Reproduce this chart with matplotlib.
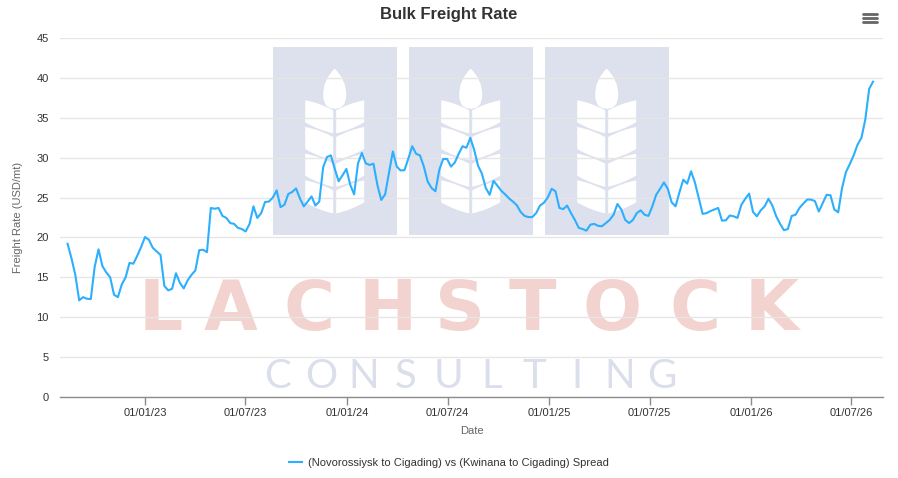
import numpy as np
import pandas as pd
import matplotlib
matplotlib.use("Agg")
import matplotlib.pyplot as plt
import matplotlib.dates as mdates
from matplotlib.path import Path
import matplotlib.patches as patches
from matplotlib.lines import Line2D

plt.rcParams['font.family'] = ['Liberation Sans', 'DejaVu Sans']

# weekly spread values (USD/mt), first week 14 Aug 2022
start_date = '2022-08-14'
spread = [
    19.2, 17.4, 15.3, 12.1, 12.5, 12.3, 12.25, 16.3, 18.5, 16.4,
    15.6, 15.0, 12.8, 12.5, 14.1, 15.0, 16.8, 16.7, 17.7, 18.8,
    20.05, 19.7, 18.7, 18.25, 17.8, 13.9, 13.35, 13.55, 15.5, 14.3,
    13.6, 14.6, 15.3, 15.85, 18.4, 18.45, 18.15, 23.7, 23.6, 23.7,
    22.7, 22.45, 21.8, 21.7, 21.2, 21.05, 20.75, 21.7, 23.9, 22.45,
    23.05, 24.45, 24.5, 25.0, 25.9, 23.8, 24.1, 25.45, 25.7, 26.15,
    24.9, 23.9, 24.5, 25.15, 24.0, 24.5, 28.8, 30.1, 30.3, 28.6,
    27.05, 27.8, 28.6, 26.6, 25.4, 29.3, 30.6, 29.3, 29.1, 29.25,
    26.6, 24.7, 25.4, 28.1, 30.8, 28.9, 28.4, 28.45, 29.9, 31.45,
    30.5, 30.3, 28.9, 27.0, 26.2, 25.8, 28.5, 29.85, 29.85, 28.9,
    29.4, 30.5, 31.45, 31.25, 32.5, 31.0, 29.0, 28.0, 26.2, 25.35,
    27.1, 26.5, 25.85, 25.4, 24.9, 24.5, 24.05, 23.2, 22.7, 22.55,
    22.55, 23.05, 24.0, 24.35, 25.0, 26.1, 25.8, 23.7, 23.55, 24.0,
    23.05, 22.2, 21.2, 21.05, 20.85, 21.6, 21.7, 21.45, 21.4, 21.8,
    22.2, 22.85, 24.2, 23.5, 22.2, 21.8, 22.2, 23.05, 23.4, 22.85,
    22.7, 23.9, 25.35, 26.1, 26.9, 26.1, 24.4, 23.9, 25.65, 27.25,
    26.75, 28.3, 26.9, 24.95, 22.95, 23.05, 23.3, 23.5, 23.7, 22.1,
    22.15, 22.75, 22.65, 22.45, 24.1, 24.85, 25.5, 23.2, 22.65, 23.4,
    23.9, 24.85, 24.0, 22.65, 21.7, 20.9, 21.05, 22.7, 22.85, 23.7,
    24.25, 24.75, 24.75, 24.55, 23.25, 24.3, 25.35, 25.3, 23.5, 23.15,
    26.2, 28.2, 29.2, 30.3, 31.65, 32.5, 34.8, 38.65, 39.55,
]
dates = pd.date_range(start_date, periods=len(spread), freq='7D')

tick_dates = ['2023-01-01', '2023-07-01', '2024-01-01', '2024-07-01',
              '2025-01-01', '2025-07-01', '2026-01-01', '2026-07-01']
series_name = '(Novorossiysk to Cigading) vs (Kwinana to Cigading) Spread'

W, H = 898, 478
fig = plt.figure(figsize=(W / 100, H / 100), dpi=100)

# background layer in pixel coordinates for the watermark
bg = fig.add_axes([0, 0, 1, 1], zorder=0)
bg.set_xlim(0, W)
bg.set_ylim(H, 0)
bg.axis('off')


def wheat(cx):
    bg.add_patch(patches.Rectangle((cx - 62, 47), 124, 188, facecolor='#dde1ee', edgecolor='none'))
    # grain on top
    v = [(cx, 68.7), (cx + 12, 80), (cx + 11.5, 96), (cx + 11, 108.7), (cx, 108.7),
         (cx - 11, 108.7), (cx - 11.5, 96), (cx - 12, 80), (cx, 68.7)]
    c = [Path.MOVETO] + [Path.CURVE3] * 8
    bg.add_patch(patches.PathPatch(Path(v, c), facecolor='white', edgecolor='none'))
    # four pairs of leaves, separated by thin gaps
    b = 2.5
    for i in range(4):
        y0 = 100.3 + 26.7 * i
        for s in (-1, 1):
            tip = (cx + s * 29.5, y0)
            top_stem = (cx + s * 1.5, y0 + 10)
            bot_stem = (cx + s * 1.5, y0 + 33)
            bot_out = (cx + s * 29.5, y0 + 22)
            c_up = (cx + s * 15.5, y0 + 5 - b)
            c_lo = (cx + s * 15.5, y0 + 27.5 + b)
            v = [tip, c_up, top_stem, bot_stem, c_lo, bot_out, tip]
            c = [Path.MOVETO, Path.CURVE3, Path.CURVE3, Path.LINETO,
                 Path.CURVE3, Path.CURVE3, Path.CLOSEPOLY]
            bg.add_patch(patches.PathPatch(Path(v, c), facecolor='white', edgecolor='none'))


for cx in (334.7, 470.7, 606.7):
    wheat(cx)

for ch, x in zip('LACHSTOCK', [161, 231, 309, 388, 460, 532, 612, 695, 772]):
    bg.text(x, 330, ch, color='#f3d3cf', fontsize=50, fontweight='heavy',
            family='DejaVu Sans', ha='center', va='baseline')
for i, ch in enumerate('CONSULTING'):
    bg.text(278 + 42.7 * i, 388, ch, color='#dadfeb', fontsize=29,
            family=['Lato', 'DejaVu Sans'], ha='center', va='baseline')

# main chart
ax = fig.add_axes([60 / W, 1 - 396.7 / H, 823 / W, 358.4 / H], zorder=1)
ax.set_facecolor('none')
ax.plot(dates, spread, color='#2caffe', linewidth=1.5, zorder=3)

ax.set_ylim(0, 45)
ax.set_yticks(np.arange(0, 46, 5))
ax.set_xlim(pd.Timestamp('2022-07-31 08:00'), pd.Timestamp('2026-08-27'))
ax.set_xticks(pd.to_datetime(tick_dates))
ax.xaxis.set_major_formatter(mdates.DateFormatter('%d/%m/%y'))

ax.grid(axis='y', color='#e6e6e6', linewidth=1)
ax.set_axisbelow(True)
for side in ('top', 'right', 'left'):
    ax.spines[side].set_visible(False)
ax.spines['bottom'].set_color('#8c8c8c')
ax.spines['bottom'].set_linewidth(1)
ax.tick_params(axis='x', colors='#8c8c8c', length=6, width=1, pad=2,
               labelcolor='#333333', labelsize=8)
ax.tick_params(axis='y', length=0, pad=8, labelcolor='#333333', labelsize=8)

ax.set_ylabel('Freight Rate (USD/mt)', color='#666666', fontsize=8, labelpad=10)
ax.set_xlabel('Date', color='#666666', fontsize=8, labelpad=6)

fig.text(449 / W, 1 - 14 / H, 'Bulk Freight Rate', ha='center', va='center',
         fontsize=12, fontweight='bold', color='#333333')

# menu icon
for yy in (14, 18, 22):
    bg.plot([863, 877], [yy, yy], color='#666666', linewidth=2, solid_capstyle='round')

handle = Line2D([], [], color='#2caffe', linewidth=1.5)
fig.legend([handle], [series_name], loc='center', bbox_to_anchor=(449 / W, 1 - 463 / H),
           frameon=False, fontsize=8, handlelength=1.2, handletextpad=0.5,
           labelcolor='#333333')

fig.savefig('out.png', dpi=100)
